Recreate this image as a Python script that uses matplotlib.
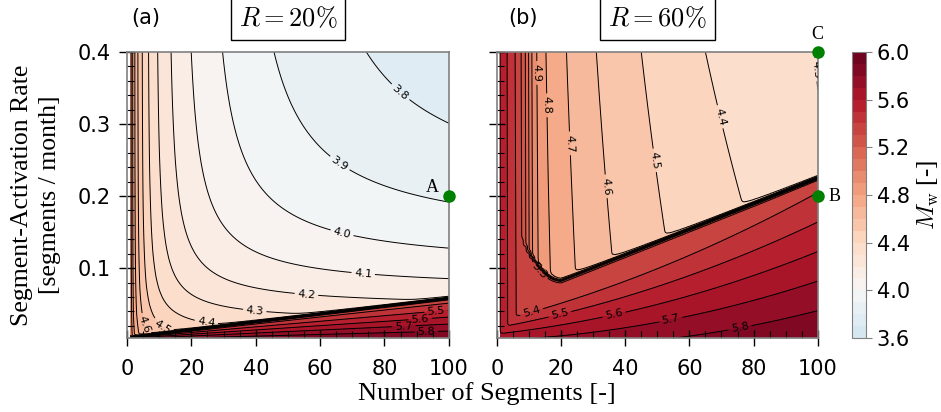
import numpy as np
import matplotlib.pyplot as plt
from matplotlib.ticker import MultipleLocator

plt.rcParams['mathtext.fontset'] = 'cm'
SERIF = 'Liberation Serif'

# grid: number of segments (integer) and segment-activation rate
n_seg = np.arange(1, 101)
rate = np.linspace(0.003, 0.4, 400)

levels = np.round(np.arange(3.6, 6.0001, 0.1), 1)
cbar_ticks = [3.6, 4.0, 4.4, 4.8, 5.2, 5.6, 6.0]

# panel (b): where the near-vertical contours cross the top edge (rate = 0.4)
n_top_b = [1, 3.3, 5.8, 7.7, 8.9, 9.9, 10.9, 12.3, 15.2, 21.7, 31, 45, 65, 99, 100]
mw_top_b = [5.6, 5.5, 5.4, 5.3, 5.2, 5.1, 5.0, 4.9, 4.8, 4.7, 4.6, 4.5, 4.4, 4.3, 4.29]

# contour label positions (N, rate)
labels_a = [(83.7, 0.338), (63.6, 0.229), (66, 0.134), (73.4, 0.093), (55.8, 0.066),
            (39.8, 0.046), (24.9, 0.0315), (11.8, 0.023), (5, 0.021),
            (96, 0.041), (91, 0.032), (86, 0.021), (93, 0.011)]
labels_b = [(98, 0.375), (67.7, 0.308), (46.6, 0.248), (32.6, 0.213), (21.9, 0.273),
            (15.4, 0.326), (12.7, 0.371), (10.8, 0.09), (10.3, 0.047), (19.6, 0.037),
            (36.2, 0.042), (53.9, 0.035), (75.5, 0.023)]

NN, RR = np.meshgrid(n_seg, rate)


def blend(upper, lower, rj, width):
    # steep switch from the upper to the lower regime at rate rj
    w = 1 / (1 + np.exp(-(rj - RR) / width))
    return upper + (np.maximum(upper, lower) - upper) * w


# (a) R = 20 %
up_a = 4.954 + 0.3 * np.log(1 / NN + 1 / (416 * RR**1.35 + 5.8))
rj_a = 0.0042 + 0.00054 * NN
low_a = 5.93 - 0.6 * RR / rj_a
mw_a = blend(up_a, low_a, rj_a, 0.0007)

# (b) R = 60 %
lean = 0.2 * (1 - np.exp(-NN / 30))
up_b = np.interp(np.log(NN), np.log(n_top_b), mw_top_b) + lean * (0.4 - RR)
rj_line = 0.0474 + 0.00178 * NN
rj_b = np.where(NN >= 20, rj_line, 0.083 + 0.0004 * (20 - NN)**2)
low_b = np.maximum(5.9 - 0.55 * RR / rj_line - 0.2 * (1 - NN / 100), 5.33)
mw_b = blend(up_b, low_b, rj_b, 0.0012)

fig = plt.figure(figsize=(9.41, 4.12), dpi=100)
ax1 = fig.add_axes([0.135, 0.1796, 0.342, 0.6942])
ax2 = fig.add_axes([0.528, 0.1796, 0.341, 0.6942])
cax = fig.add_axes([0.905, 0.1796, 0.0155, 0.6942])

norm = plt.Normalize(2.0, 6.0)
for ax, mw, labs in ((ax1, mw_a, labels_a), (ax2, mw_b, labels_b)):
    cf = ax.contourf(n_seg, rate, mw, levels=levels, cmap='RdBu_r', norm=norm)
    cl = ax.contour(n_seg, rate, mw, levels=levels, colors='k', linewidths=0.7)
    ax.clabel(cl, fontsize=8, fmt='%.1f', manual=labs, inline_spacing=3)
    ax.set_xlim(0, 100)
    ax.set_ylim(0.003, 0.4)
    ax.set_xticks([0, 20, 40, 60, 80, 100])
    ax.set_yticks([0.1, 0.2, 0.3, 0.4])
    ax.xaxis.set_minor_locator(MultipleLocator(5))
    ax.yaxis.set_minor_locator(MultipleLocator(0.02))
    ax.tick_params(which='major', direction='inout', length=12, width=1, labelsize=15, pad=6)
    ax.tick_params(axis='x', which='major', pad=9)
    ax.tick_params(which='minor', direction='in', length=5, width=0.8)
    for s in ax.spines.values():
        s.set_color('grey')
        s.set_linewidth(1.2)

ax2.tick_params(labelleft=False)

ax1.set_ylabel('Segment-Activation Rate\n[segments / month]', fontsize=18.5,
               family=SERIF, linespacing=1.35, labelpad=12)
fig.text(0.517, 0.046, 'Number of Segments [-]', ha='center', va='center',
         fontsize=19, family=SERIF)

box = dict(boxstyle='square,pad=0.3', fc='white', ec='black', lw=1)
ax1.text(0.5, 1.115, r'$R = 20\%$', transform=ax1.transAxes, ha='center', va='center',
         fontsize=19, bbox=box)
ax2.text(0.5, 1.115, r'$R = 60\%$', transform=ax2.transAxes, ha='center', va='center',
         fontsize=19, bbox=box)
ax1.text(0.058, 1.12, '(a)', transform=ax1.transAxes, ha='center', va='center', fontsize=15)
ax2.text(0.083, 1.12, '(b)', transform=ax2.transAxes, ha='center', va='center', fontsize=15)

# points A, B, C
ax1.plot(100, 0.2, 'o', color='green', ms=8, clip_on=False, zorder=10)
ax1.text(95, 0.212, 'A', ha='center', va='center', fontsize=13, family=SERIF)
ax2.plot(100, 0.2, 'o', color='green', ms=8, clip_on=False, zorder=10)
ax2.text(105.3, 0.199, 'B', ha='center', va='center', fontsize=13, family=SERIF)
ax2.plot(100, 0.4, 'o', color='green', ms=8, clip_on=False, zorder=10)
ax2.text(100, 0.424, 'C', ha='center', va='center', fontsize=13, family=SERIF)

cb = fig.colorbar(cf, cax=cax, ticks=cbar_ticks)
cb.outline.set_edgecolor('grey')
cb.ax.tick_params(labelsize=15, color='grey', length=4)
cb.set_label(r'$M_{\rm w}$ [-]', fontsize=18, family=SERIF, labelpad=4)

fig.savefig('out.png', dpi=100)
